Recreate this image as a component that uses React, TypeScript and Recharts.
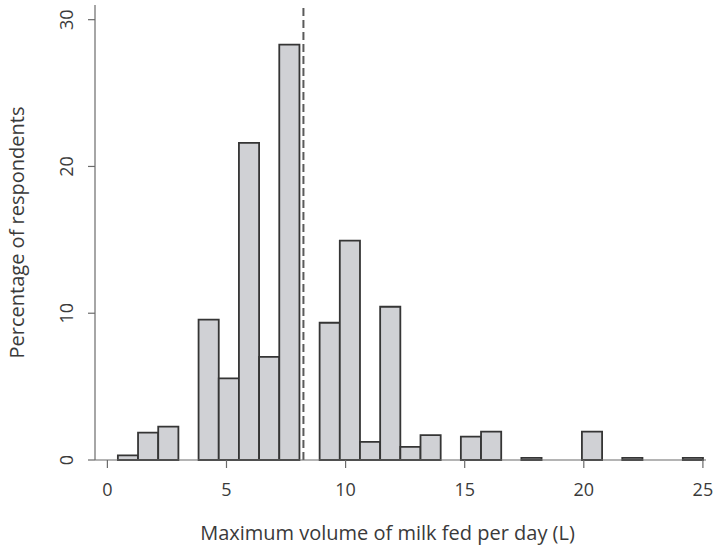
import * as React from "react";
import {
  ComposedChart,
  XAxis,
  YAxis,
  ReferenceArea,
  ReferenceLine,
} from "recharts";

// ── Histogram data ──────────────────────────────────────────────────────────
// Bins run from BIN_START in steps of BIN_WIDTH litres (29 bins up to 25 L).
const BIN_START = 0.44;
const BIN_WIDTH = 0.847;

// Percentage of respondents in each bin, left to right
const PERCENTAGES = [
  0.32, 1.86, 2.27, 0, 9.57, 5.56, 21.6, 7.03, 28.3, 0,
  9.35, 14.95, 1.24, 10.44, 0.9, 1.7, 0, 1.59, 1.93, 0,
  0.15, 0, 0, 1.93, 0, 0.15, 0, 0, 0.15,
];

const X_TICKS = [0, 5, 10, 15, 20, 25];
const Y_TICKS = [0, 10, 20, 30];

// dashed marker (mean / median volume)
const MARKER_X = 8.23;

const bins = PERCENTAGES.map((pct, i) => ({
  x1: BIN_START + i * BIN_WIDTH,
  x2: BIN_START + (i + 1) * BIN_WIDTH,
  pct,
}));

// ── Styling ─────────────────────────────────────────────────────────────────
const FONT = "'Open Sans', 'Liberation Sans', sans-serif";
const TEXT = "#3a3a3a";
const AXIS = "#6b6b6b";
const BAR_FILL = "#d0d1d5";
const BAR_STROKE = "#353535";

function RotatedTick(props: any) {
  const { x, y, payload } = props;
  return (
    <text
      x={x}
      y={y}
      transform={`rotate(-90 ${x} ${y})`}
      textAnchor="middle"
      fill={TEXT}
      fontSize={18}
      fontFamily={FONT}
    >
      {payload.value}
    </text>
  );
}

export default function App() {
  return (
    <div style={{ position: "absolute", left: 0, top: 0, background: "#fff" }}>
      <ComposedChart
        width={716}
        height={547}
        data={bins}
        margin={{ top: 5, right: 10, bottom: 0, left: 0 }}
      >
        <XAxis
          type="number"
          dataKey="x1"
          domain={[-0.52, 25.13]}
          ticks={X_TICKS}
          allowDataOverflow
          height={87}
          tickSize={8}
          tickMargin={15}
          stroke={AXIS}
          strokeWidth={1.2}
          tick={{ fill: TEXT, fontSize: 18, fontFamily: FONT }}
          label={{
            value: "Maximum volume of milk fed per day (L)",
            position: "insideBottom",
            offset: 7,
            dx: -13,
            fill: TEXT,
            fontSize: 20,
            fontFamily: FONT,
          }}
        />
        <YAxis
          type="number"
          domain={[0, 31]}
          ticks={Y_TICKS}
          allowDataOverflow
          width={95}
          tickSize={7}
          tickMargin={15}
          stroke={AXIS}
          strokeWidth={1.2}
          tick={<RotatedTick />}
          label={{
            value: "Percentage of respondents",
            angle: -90,
            position: "insideLeft",
            offset: 17,
            style: { textAnchor: "middle" },
            fill: TEXT,
            fontSize: 20,
            fontFamily: FONT,
          }}
        />
        {bins
          .filter((b) => b.pct > 0)
          .map((b, i) => (
            <ReferenceArea
              key={i}
              x1={b.x1}
              x2={b.x2}
              y1={0}
              y2={b.pct}
              fill={BAR_FILL}
              fillOpacity={1}
              stroke={BAR_STROKE}
              strokeWidth={1.8}
              ifOverflow="visible"
            />
          ))}
        <ReferenceLine
          x={MARKER_X}
          stroke="#5a5a5a"
          strokeWidth={2}
          strokeDasharray="8 4"
        />
      </ComposedChart>
    </div>
  );
}
